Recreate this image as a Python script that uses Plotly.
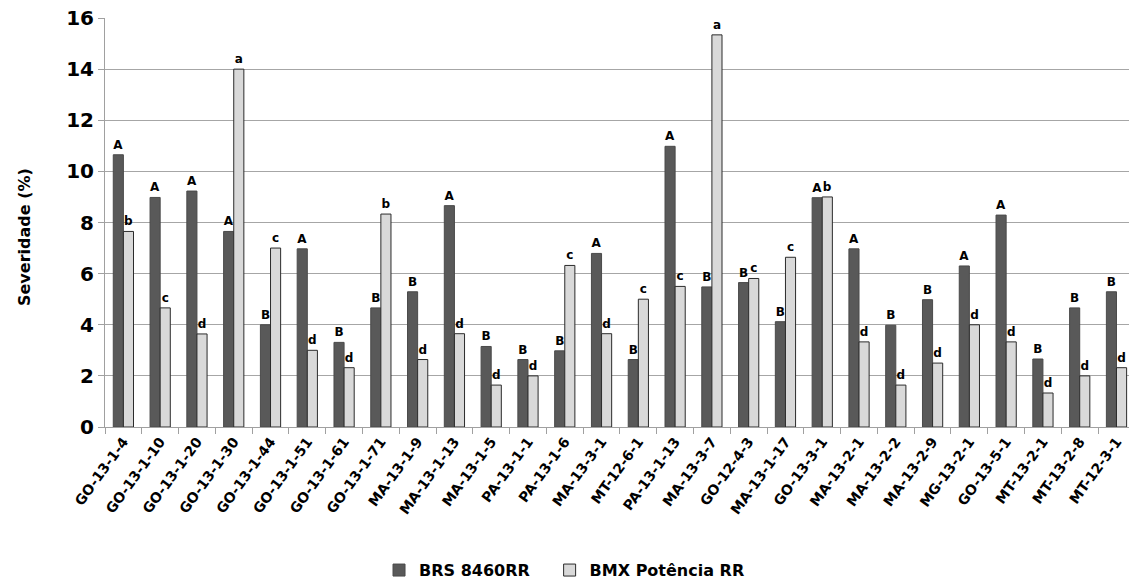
import plotly.graph_objects as go

categories = ["GO-13-1-4", "GO-13-1-10", "GO-13-1-20", "GO-13-1-30", "GO-13-1-44", "GO-13-1-51",
              "GO-13-1-61", "GO-13-1-71", "MA-13-1-9", "MA-13-1-13", "MA-13-1-5", "PA-13-1-1",
              "PA-13-1-6", "MA-13-3-1", "MT-12-6-1", "PA-13-1-13", "MA-13-3-7", "GO-12-4-3",
              "MA-13-1-17", "GO-13-3-1", "MA-13-2-1", "MA-13-2-2", "MA-13-2-9", "MG-13-2-1",
              "GO-13-5-1", "MT-13-2-1", "MT-13-2-8", "MT-12-3-1"]

brs_values = [10.65, 8.98, 9.23, 7.65, 4.0, 6.97, 3.31, 4.66, 5.29, 8.66, 3.15, 2.64, 2.98, 6.79,
              2.64, 10.98, 5.48, 5.65, 4.12, 8.97, 6.97, 3.98, 4.98, 6.3, 8.29, 2.66, 4.66, 5.29]
bmx_values = [7.65, 4.66, 3.64, 14.0, 7.0, 3.0, 2.32, 8.33, 2.64, 3.65, 1.64, 2.0, 6.32, 3.65,
              5.0, 5.5, 15.34, 5.81, 6.64, 9.0, 3.33, 1.64, 2.5, 4.0, 3.33, 1.33, 2.0, 2.32]

brs_letters = ["A", "A", "A", "A", "B", "A", "B", "B", "B", "A", "B", "B", "B", "A",
               "B", "A", "B", "B", "B", "A", "A", "B", "B", "A", "A", "B", "B", "B"]
bmx_letters = ["b", "c", "d", "a", "c", "d", "d", "b", "d", "d", "d", "d", "c", "d",
               "c", "c", "a", "c", "c", "b", "d", "d", "d", "d", "d", "d", "d", "d"]

series_names = ["BRS 8460RR", "BMX Potência RR"]
y_title = "Severidade (%)"
y_ticks = list(range(0, 17, 2))

FONT = "DejaVu Sans"

fig = go.Figure()
fig.add_trace(go.Bar(
    x=categories, y=brs_values, name="<b>%s</b>" % series_names[0],
    marker=dict(color="#595959", line=dict(color="#4a4a4a", width=1)),
    text=["<b>%s</b>" % s for s in brs_letters], textposition="outside",
    constraintext="none", cliponaxis=False,
    textfont=dict(family=FONT, size=12, color="#000000"),
    legend="legend",
))
fig.add_trace(go.Bar(
    x=categories, y=bmx_values, name="<b>%s</b>" % series_names[1],
    marker=dict(color="#d9d9d9", line=dict(color="#2b2b2b", width=1)),
    text=["<b>%s</b>" % s for s in bmx_letters], textposition="outside",
    constraintext="none", cliponaxis=False,
    textfont=dict(family=FONT, size=12, color="#000000"),
    legend="legend2",
))

legend_common = dict(orientation="h", yanchor="middle", y=-0.35, xanchor="left",
                     font=dict(family=FONT, size=16, color="#000000"),
                     itemwidth=30, bgcolor="rgba(0,0,0,0)")

fig.update_layout(
    width=1129, height=580,
    paper_bgcolor="white", plot_bgcolor="white",
    margin=dict(l=105, r=0, t=18, b=153, autoexpand=False),
    barmode="group", bargap=0.45, bargroupgap=0,
    font=dict(family=FONT, color="#000000"),
    showlegend=True,
    legend=dict(x=0.2676, **legend_common),
    legend2=dict(x=0.4342, **legend_common),
    annotations=[dict(text="<b>%s</b>" % y_title, textangle=-90, xref="paper", yref="paper",
                      x=-0.0791, y=0.4645, xanchor="center", yanchor="middle", showarrow=False,
                      font=dict(family=FONT, size=16, color="#000000"))],
)
fig.update_xaxes(
    range=[-0.5, 27.34], automargin=False,
    tickangle=-54, tickson="boundaries", ticks="outside", ticklen=6, tickcolor="#a0a0a0",
    showline=True, linecolor="#a0a0a0", linewidth=1,
    tickfont=dict(family=FONT, size=14, color="#000000"),
    tickvals=categories, ticktext=["<b>%s</b>" % c for c in categories],
    showgrid=False,
)
fig.update_yaxes(
    range=[0, 16], automargin=False,
    showgrid=True, gridcolor="#a6a6a6", gridwidth=1,
    showline=True, linecolor="#a0a0a0", linewidth=1,
    ticks="outside", ticklen=6, tickcolor="#a0a0a0",
    tickfont=dict(family=FONT, size=20, color="#000000"),
    tickvals=y_ticks, ticktext=["<b>%d</b>" % v for v in y_ticks],
    zeroline=False,
)

fig.write_html("out.html", config={"displayModeBar": False},
               post_script="document.body.style.margin='0';document.body.style.overflow='hidden';")
